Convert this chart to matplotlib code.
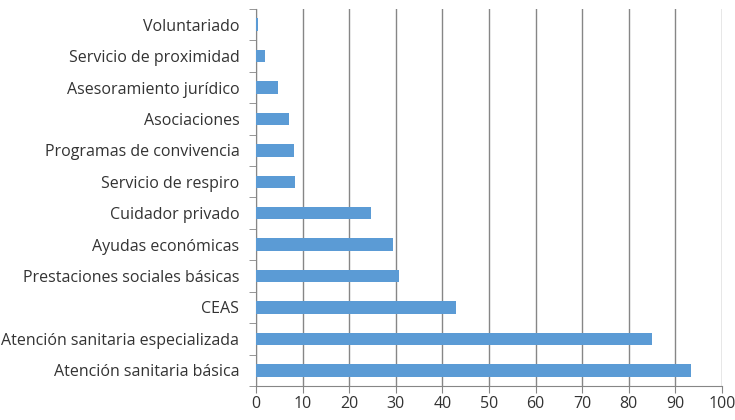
import matplotlib
matplotlib.use("Agg")
import matplotlib.pyplot as plt

categories = ["Atención sanitaria básica", "Atención sanitaria especializada", "CEAS",
              "Prestaciones sociales básicas", "Ayudas económicas", "Cuidador privado",
              "Servicio de respiro", "Programas de convivencia", "Asociaciones",
              "Asesoramiento jurídico", "Servicio de proximidad", "Voluntariado"]
values = [93.4, 84.9, 42.9, 30.7, 29.5, 24.7, 8.4, 8.1, 7.1, 4.8, 2.0, 0.4]
xticks = [0, 10, 20, 30, 40, 50, 60, 70, 80, 90, 100]

plt.rcParams['font.family'] = ['Open Sans', 'DejaVu Sans']
fig = plt.figure(figsize=(7.35, 4.2), dpi=100)
ax = fig.add_axes([256/735, 1-386/420, (722-256)/735, (386-9)/420])

y = list(range(len(categories)))
ax.barh(y, values, height=0.4, color='#5b9bd5', zorder=3)
ax.set_xlim(0, 100)
ax.set_ylim(-0.5, len(categories)-0.5)
ax.set_xticks(xticks)
ax.set_xticklabels([str(t) for t in xticks], fontsize=11.5, color='#333333')
ax.set_yticks(y)
ax.set_yticklabels(categories, fontsize=11.5, color='#333333')
ax.set_yticks([i - 0.5 for i in range(len(categories)+1)], minor=True)
ax.tick_params(axis='y', which='major', length=0, pad=12)
ax.tick_params(axis='y', which='minor', length=5, color='#868686', direction='out')
ax.tick_params(axis='x', length=5, color='#868686', direction='out', pad=2)
ax.grid(axis='x', color='#868686', linewidth=1, zorder=0)
for s in ['top', 'right']:
    ax.spines[s].set_visible(False)
for s in ['left', 'bottom']:
    ax.spines[s].set_color('#868686')
fig.savefig("out.png", dpi=100)
